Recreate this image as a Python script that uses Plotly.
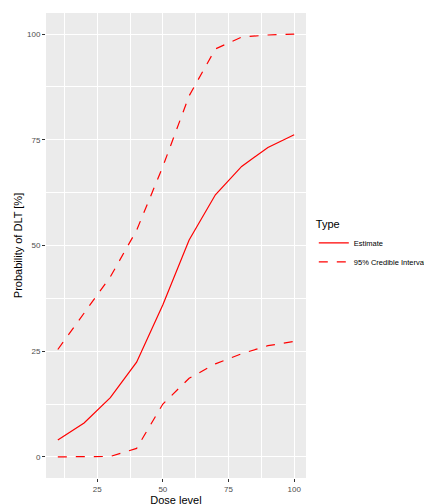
import plotly.graph_objects as go

dose = [10, 20, 30, 40, 50, 60, 70, 80, 90, 100]
estimate = [4.0, 8.0, 14.0, 22.4, 36.0, 51.3, 62.0, 68.7, 73.2, 76.2]
upper = [25.4, 34.0, 42.6, 53.6, 68.7, 85.4, 96.5, 99.3, 99.8, 100.0]
lower = [0.0, 0.0, 0.1, 2.0, 12.5, 18.6, 22.0, 24.4, 26.3, 27.3]

fig = go.Figure()
fig.add_trace(go.Scatter(x=dose, y=estimate, mode="lines", name="Estimate",
                         line=dict(color="red", width=1.2)))
fig.add_trace(go.Scatter(x=dose, y=upper, mode="lines", name="95% Credible Interval",
                         line=dict(color="red", width=1.2, dash="dash")))
fig.add_trace(go.Scatter(x=dose, y=lower, mode="lines", showlegend=False,
                         line=dict(color="red", width=1.2, dash="dash")))

axis_common = dict(showgrid=True, gridcolor="white", gridwidth=1.1, zeroline=False,
                   ticks="outside", ticklen=3, tickcolor="#333333", automargin=False,
                   tickfont=dict(size=8, color="#4d4d4d"), showline=False)
fig.update_xaxes(range=[5.5, 104.5], tickvals=[25, 50, 75, 100],
                 minor=dict(tickvals=[12.5, 37.5, 62.5, 87.5], showgrid=True,
                            gridcolor="white", gridwidth=0.5),
                 title=dict(text="Dose level", font=dict(size=11, color="black"), standoff=2),
                 **axis_common)
fig.update_yaxes(range=[-5, 105], tickvals=[0, 25, 50, 75, 100],
                 minor=dict(tickvals=[12.5, 37.5, 62.5, 87.5], showgrid=True,
                            gridcolor="white", gridwidth=0.5),
                 title=dict(text="Probability of DLT [%]", font=dict(size=11, color="black"), standoff=2),
                 **axis_common)
fig.update_layout(
    width=432, height=504,
    margin=dict(l=38, r=134, t=5, b=34),
    paper_bgcolor="white", plot_bgcolor="#EBEBEB",
    font=dict(family="Liberation Sans, Arial, sans-serif"),
    legend=dict(title=dict(text="Type", font=dict(size=11, color="black")),
                x=1.03, y=0.5, xanchor="left", yanchor="middle", itemwidth=30,
                font=dict(size=7.5, color="black"), bgcolor="white"),
)
fig.write_html("out.html")
